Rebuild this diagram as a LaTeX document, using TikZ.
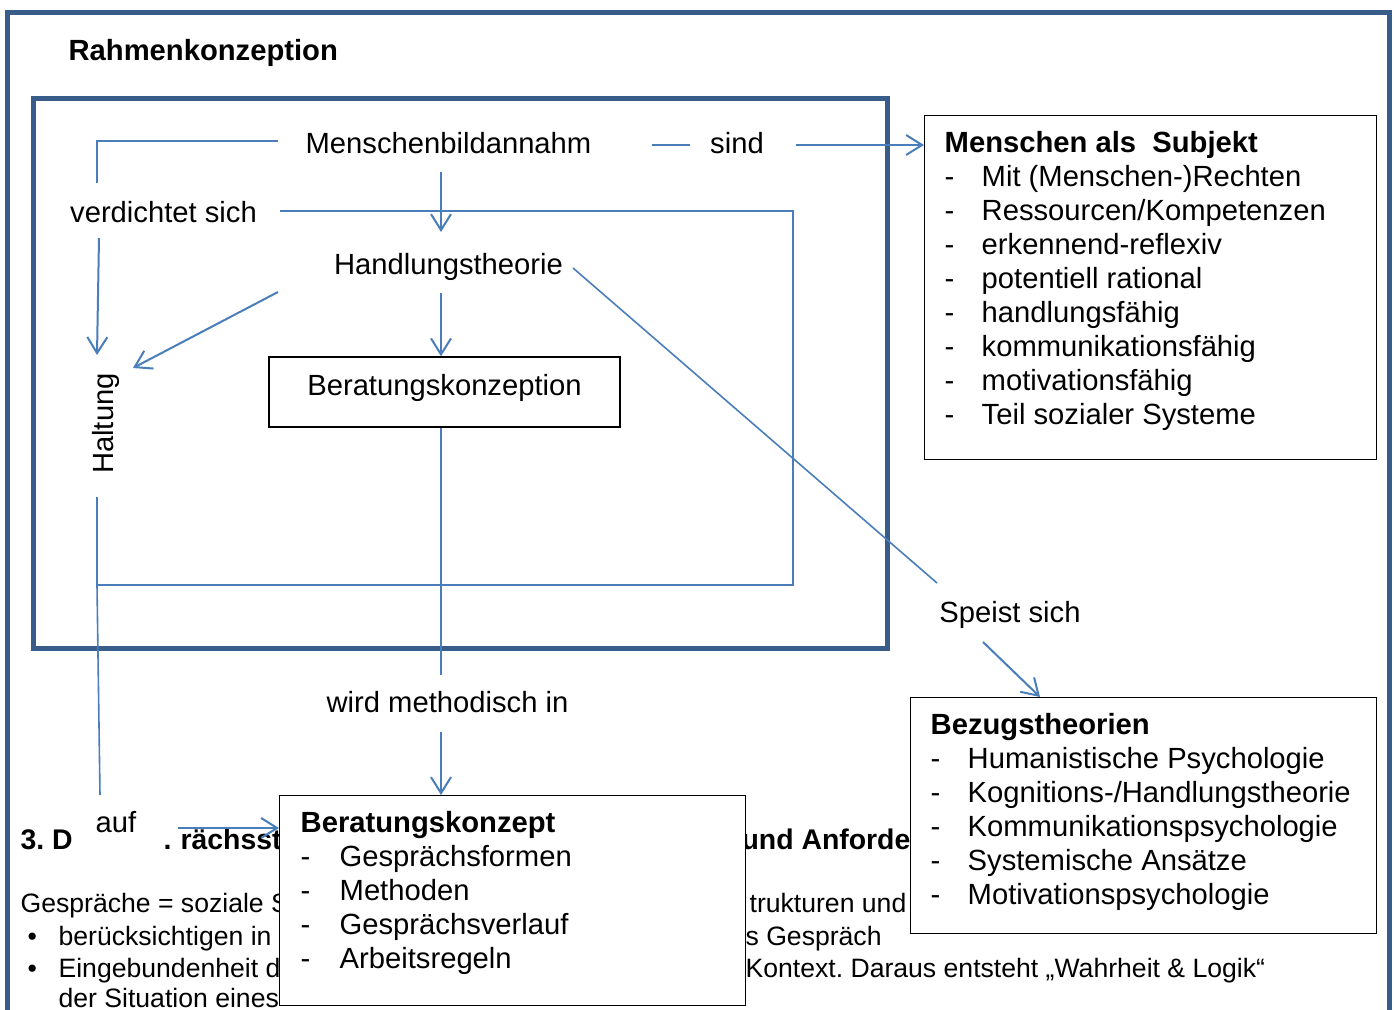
\documentclass[tikz,border=0pt]{standalone}
\usepackage{fontspec}
\setmainfont{Liberation Sans}
\usepackage{xcolor}
\usepackage{tikz}
\usetikzlibrary{arrows.meta}
\usetikzlibrary{calc}
\usetikzlibrary{positioning}

\definecolor{rahmenblau}{HTML}{385D8A}
\definecolor{linie}{HTML}{4A7EBB}
\newcommand{\haupt}{\fontsize{14.6}{17}\selectfont}
\newcommand{\klein}{\fontsize{13.3}{16}\selectfont}
\newcommand{\listpunkt}[1]{\par\makebox[18.5pt][l]{-}#1}
\setlength{\parskip}{0pt}
\frenchspacing

\begin{document}
\begin{tikzpicture}[x=0.5pt,y=-0.5pt,-,auto,semithick]
	\tikzstyle{lbl}=[font=\haupt, inner sep=0pt, anchor=base]
	\tikzstyle{grund}=[font=\klein, inner sep=0pt, anchor=base west]
	\tikzstyle{pfeil}=[draw=linie, line width=1pt, -{Straight Barb[length=8pt,width=10pt]}]
	\tikzstyle{strich}=[draw=linie, line width=0.8pt]
	\tikzstyle{rahmen}=[draw=rahmenblau, line width=2.5pt]
	\tikzstyle{kasten}=[draw, line width=0.7pt, fill=white, anchor=north west, inner xsep=10pt, inner ysep=8pt, font=\haupt]
	\useasboundingbox (0,0) rectangle (1394,1010);

	% text of the page behind
	\node[grund,font=\fontsize{14.2}{17}\selectfont\bfseries] (k1) at (20,849) {3. D};
	\node[grund,font=\fontsize{14.2}{17}\selectfont\bfseries] (k2) at (163,849) {.};
	\node[grund,font=\fontsize{14.2}{17}\selectfont\bfseries] (k3) at (180,849) {rächsst};
	\node[grund,font=\fontsize{14.2}{17}\selectfont\bfseries] (k4) at (741,849) {und Anforde};
	\node[grund] (g1) at (20,912) {Gespräche = soziale S};
	\node[grund] (g2) at (749,912) {trukturen und I};
	\node[grund] (b1) at (27,945) {•};
	\node[grund] (g3) at (58,945) {berücksichtigen in};
	\node[grund] (g4) at (745,945) {s Gespräch};
	\node[grund] (b2) at (27,977) {•};
	\node[grund] (g5) at (58,977) {Eingebundenheit d};
	\node[grund] (g6) at (745,977) {Kontext. Daraus entsteht „Wahrheit \& Logik“};
	\node[grund] (g7) at (58,1007) {der Situation eines};

	% frames
	\draw[rahmen] (7,1012) -- (7,13) -- (1389,13) -- (1389,1012);
	\draw[rahmen] (33,99) rectangle (887,649);
	\node[anchor=base west, inner sep=0pt, font=\haupt\bfseries] (titel) at (68,61) {Rahmenkonzeption};

	% labels
	\node[lbl] (MB) at (448.5,154) {Menschenbildannahm};
	\node[lbl] (sind) at (737,154) {sind};
	\node[lbl] (vs) at (163.5,223) {verdichtet sich};
	\node[lbl] (HT) at (448.5,275) {Handlungstheorie};
	\node[font=\haupt, inner sep=0pt, rotate=90] (Ha) at (105.5,423.5) {Haltung};
	\node[lbl] (wmi) at (447.5,713) {wird methodisch in};
	\node[lbl] (sp) at (1010,623) {Speist sich};
	\node[lbl] (auf) at (116,833) {auf};
	\node[draw, line width=0.7pt, fill=white, font=\haupt, text depth=7.2pt, minimum width=175.5pt, minimum height=35pt] (BKon) at (444.5,392) {Beratungskonzeption};

	% boxes
	\node[kasten] (MS) at (924,115) {\parbox[t][156pt][t]{206pt}{\raggedright
		\textbf{Menschen als~~Subjekt}
		\listpunkt{Mit (Menschen-)Rechten}
		\listpunkt{Ressourcen/Kompetenzen}
		\listpunkt{erkennend-reflexiv}
		\listpunkt{potentiell rational}
		\listpunkt{handlungsfähig}
		\listpunkt{kommunikationsfähig}
		\listpunkt{motivationsfähig}
		\listpunkt{Teil sozialer Systeme}}};
	\node[kasten] (BT) at (910,697) {\parbox[t][102pt][t]{213pt}{\raggedright
		\textbf{Bezugstheorien}
		\listpunkt{Humanistische Psychologie}
		\listpunkt{Kognitions-/Handlungstheorie}
		\listpunkt{Kommunikationspsychologie}
		\listpunkt{Systemische Ansätze}
		\listpunkt{Motivationspsychologie}}};
	\node[kasten, inner xsep=10.5pt] (BK) at (279,795) {\parbox[t][89pt][t]{212pt}{\raggedright
		\textbf{Beratungskonzept}
		\listpunkt{\hspace{1pt}Gesprächsformen}
		\listpunkt{\hspace{1pt}Methoden}
		\listpunkt{\hspace{1pt}Gesprächsverlauf}
		\listpunkt{\hspace{1pt}Arbeitsregeln}}};

	% free ends
	\coordinate (m0) at (278,141);
	\coordinate (v0) at (97,183);
	\coordinate (v1) at (99,238);
	\coordinate (v2) at (97,355);
	\coordinate (r0) at (280,211);
	\coordinate (r1) at (793,585);
	\coordinate (ha0) at (97,497);
	\coordinate (ha1) at (97,585);
	\coordinate (ha2) at (100,795);
	\coordinate (a1) at (178,828);
	\coordinate (m1) at (441,172);
	\coordinate (m2) at (441,232);
	\coordinate (h0) at (278,292);
	\coordinate (h1) at (133,368);
	\coordinate (h2) at (441,293);
	\coordinate (h3) at (573,268);
	\coordinate (s0) at (937,583);
	\coordinate (b0) at (441,675);
	\coordinate (w0) at (441,732);
	\coordinate (sp0) at (983,642);
	\coordinate (sp1) at (1040,697);
	\coordinate (n0) at (652,145);
	\coordinate (n1) at (690,145);
	\coordinate (n2) at (796,145);

	% connectors
	\draw[strich] (m0) -- (97,141) -- (v0);
	\draw[pfeil] (v1) -- (v2);
	\draw[strich] (r0) -- (793,211) -- (r1) -- (ha1);
	\draw[strich, line width=1pt] (ha0) -- (ha1);
	\draw[strich] (ha1) -- (ha2);
	\draw[pfeil] (a1) -- (a1 -| BK.west);
	\draw[pfeil] (m1) -- (m2);
	\draw[pfeil] (h0) -- (h1);
	\draw[pfeil] (h2) -- (h2 |- BKon.north);
	\draw[strich] (BKon.south -| b0) -- (b0);
	\draw[pfeil] (w0) -- (w0 |- BK.north);
	\draw[strich] (h3) -- (s0);
	\draw[pfeil] (sp0) -- (sp1);
	\draw[strich] (n0) -- (n1);
	\draw[pfeil] (n2) -- (n2 -| MS.west);
\end{tikzpicture}
\end{document}
